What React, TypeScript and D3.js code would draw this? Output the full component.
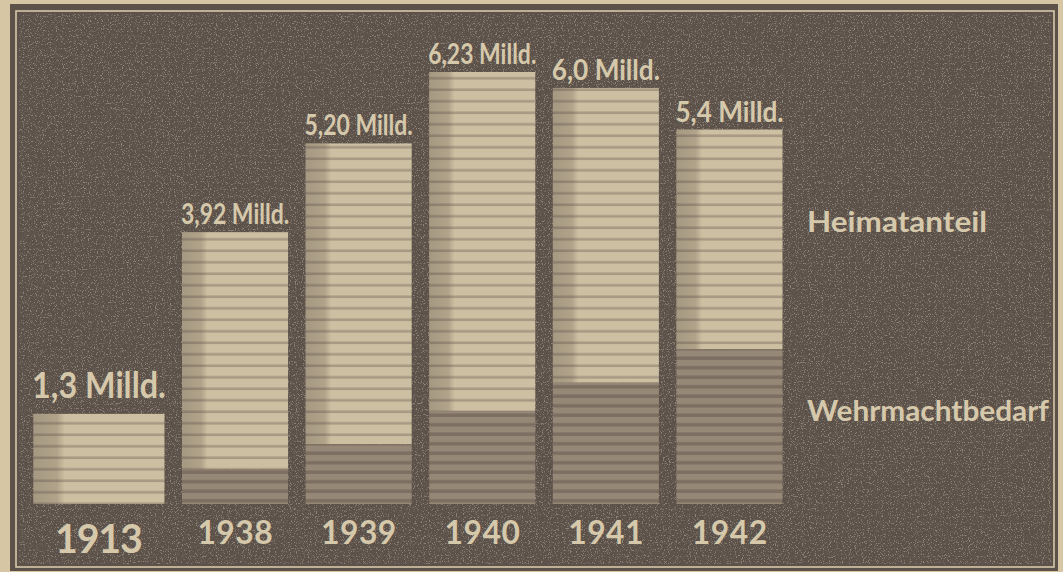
import React from "react";
import * as d3 from "d3";

// Rüstungs-/Produktionswerte in Milliarden
const years = ["1913", "1938", "1939", "1940", "1941", "1942"];
const totals = [1.3, 3.92, 5.2, 6.23, 6.0, 5.4];
const totalLabels = ["1,3 Milld.", "3,92 Milld.", "5,20 Milld.", "6,23 Milld.", "6,0 Milld.", "5,4 Milld."];
const wehrmacht = [0, 0.5, 0.86, 1.34, 1.75, 2.23];
const legendLabels = ["Heimatanteil", "Wehrmachtbedarf"];

const width = 1063;
const height = 572;
const baseY = 504;

const colors = {
    paper: "#d6c6a4",
    panel: "#5c524a",
    light: "#cdbfa1",
    lightStripe: "#9a8c79",
    dark: "#958877",
    darkStripe: "#75695d",
    text: "#d6c8aa",
};

const font = "Lato, 'Noto Sans', sans-serif";

const App = (): JSX.Element => {
    const x = d3.scaleBand<string>().domain(years).range([58.4, 782.5]).paddingInner(0.142).paddingOuter(0);
    const y = d3.scaleLinear().domain([0, 6.23]).range([baseY, 72]);
    const bw = x.bandwidth();

    // the 1913 column is drawn wider in the original
    const barX = (yr: string, i: number) => (i === 0 ? (x(yr) as number) - 25 : (x(yr) as number));
    const barW = (i: number) => (i === 0 ? bw + 25 : bw);

    return (
        <svg
            width={width}
            height={height}
            viewBox={`0 0 ${width} ${height}`}
            style={{ position: "fixed", left: 0, top: 0, display: "block" }}
        >
            <defs>
                <pattern id="lightStripes" patternUnits="userSpaceOnUse" width={8} height={11.5}>
                    <rect width={8} height={11.5} fill={colors.light} />
                    <rect y={8} width={8} height={2.6} fill={colors.lightStripe} opacity={0.75} />
                </pattern>
                <pattern id="darkStripes" patternUnits="userSpaceOnUse" width={8} height={9.5}>
                    <rect width={8} height={9.5} fill={colors.dark} />
                    <rect y={5} width={8} height={3.5} fill={colors.darkStripe} opacity={0.8} />
                </pattern>
                <linearGradient id="leftShade" x1="0" x2="1" y1="0" y2="0">
                    <stop offset="0" stopColor="#4a4038" stopOpacity={0.3} />
                    <stop offset="0.18" stopColor="#4a4038" stopOpacity={0.22} />
                    <stop offset="0.24" stopColor="#4a4038" stopOpacity={0} />
                    <stop offset="1" stopColor="#4a4038" stopOpacity={0} />
                </linearGradient>
                <filter id="speckle" x="0" y="0" width="100%" height="100%">
                    <feTurbulence type="fractalNoise" baseFrequency="0.85" numOctaves={2} seed={3} />
                    <feColorMatrix
                        type="matrix"
                        values="0 0 0 0 0.85  0 0 0 0 0.78  0 0 0 0 0.65  0 0 0 6 -3.4"
                    />
                </filter>
            </defs>

            {/* paper and frame */}
            <rect width={width} height={height} fill={colors.paper} />
            <rect x={10} y={4} width={1048} height={567} fill={colors.panel} />
            <rect x={16} y={11} width={1038} height={556} fill="none" stroke={colors.text} strokeWidth={1.6} />
            <rect x={19} y={14} width={1032} height={550} fill={colors.panel} />
            <rect x={19} y={14} width={1032} height={550} filter="url(#speckle)" opacity={0.35} />

            {/* bars */}
            {years.map((yr, i) => {
                const bx = barX(yr, i);
                const w = barW(i);
                const top = y(totals[i]);
                const split = y(wehrmacht[i]);
                return (
                    <g key={yr}>
                        <rect x={bx} y={top} width={w} height={split - top} fill="url(#lightStripes)" />
                        <rect x={bx} y={top} width={w} height={split - top} fill="url(#leftShade)" />
                        {wehrmacht[i] > 0 && (
                            <rect x={bx} y={split} width={w} height={baseY - split} fill="url(#darkStripes)" />
                        )}
                    </g>
                );
            })}

            {/* value labels */}
            {years.map((yr, i) => {
                const w = barW(i);
                const cx = barX(yr, i) + w / 2;
                return (
                    <text
                        key={"v" + yr}
                        x={cx}
                        y={y(totals[i]) - (i === 0 ? 16 : 8)}
                        textAnchor="middle"
                        fontFamily={font}
                        fontWeight={700}
                        fontSize={w * 0.27}
                        fill={colors.text}
                        textLength={w * 1.02}
                        lengthAdjust="spacingAndGlyphs"
                    >
                        {totalLabels[i]}
                    </text>
                );
            })}

            {/* year labels */}
            {years.map((yr, i) => {
                const w = barW(i);
                const cx = barX(yr, i) + w / 2;
                return (
                    <text
                        key={"y" + yr}
                        x={cx}
                        y={i === 0 ? 553 : 544}
                        textAnchor="middle"
                        fontFamily={font}
                        fontWeight={700}
                        fontSize={w * 0.3}
                        fill={colors.text}
                        textLength={w * (i === 0 ? 0.67 : 0.71)}
                        lengthAdjust="spacing"
                    >
                        {yr}
                    </text>
                );
            })}

            {/* legend */}
            <text
                x={807}
                y={232}
                fontFamily={font}
                fontWeight={700}
                fontSize={28}
                fill={colors.text}
                textLength={180}
                lengthAdjust="spacingAndGlyphs"
            >
                {legendLabels[0]}
            </text>
            <text
                x={807}
                y={421}
                fontFamily={font}
                fontWeight={700}
                fontSize={28}
                fill={colors.text}
                textLength={242}
                lengthAdjust="spacingAndGlyphs"
            >
                {legendLabels[1]}
            </text>
        </svg>
    );
};

export default App;
